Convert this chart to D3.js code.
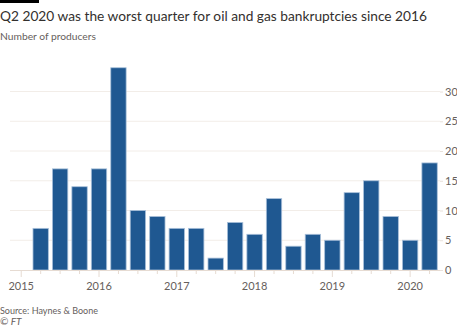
<!DOCTYPE html>
<html>
<head>
<meta charset="utf-8">
<script src="https://cdn.jsdelivr.net/npm/d3@7"></script>
<style>
  body { margin: 0; background: #fff; }
  text { font-family: Lato, "Open Sans", sans-serif; }
</style>
</head>
<body>
<svg width="457" height="327"></svg>
<script>
var quarters = ["2015Q1","2015Q2","2015Q3","2015Q4",
                "2016Q1","2016Q2","2016Q3","2016Q4",
                "2017Q1","2017Q2","2017Q3","2017Q4",
                "2018Q1","2018Q2","2018Q3","2018Q4",
                "2019Q1","2019Q2","2019Q3","2019Q4",
                "2020Q1","2020Q2"];
var producers = [null, 7, 17, 14, 17, 34, 10, 9, 7, 7, 2, 8, 6, 12, 4, 6, 5, 13, 15, 9, 5, 18];
var yTicks = [0, 5, 10, 15, 20, 25, 30];

var svg = d3.select("svg"),
    width = +svg.attr("width"),
    height = +svg.attr("height");

var data = quarters.map(function(q, i) { return {q: q, v: producers[i]}; });

var x = d3.scaleBand()
    .domain(quarters)
    .range([11.5, 439.3])
    .paddingInner(0.21)
    .paddingOuter(0.105);

var y = d3.scaleLinear()
    .domain([0, 35])
    .range([270, 61.8]);

// top-left FT bar
svg.append("rect")
    .attr("x", 0).attr("y", 0)
    .attr("width", 39).attr("height", 3)
    .attr("fill", "#000");

svg.append("text")
    .attr("class", "title")
    .attr("x", 0).attr("y", 21)
    .attr("fill", "#33302e")
    .style("font-size", "15.5px")
    .text("Q2 2020 was the worst quarter for oil and gas bankruptcies since 2016");

svg.append("text")
    .attr("class", "subtitle")
    .attr("x", 0).attr("y", 40)
    .attr("fill", "#66605c")
    .style("font-size", "11.5px")
    .text("Number of producers");

// fit a text to the width it has in the original
function fit(sel, w) {
  var len = sel.node().getComputedTextLength();
  var fs = parseFloat(sel.style("font-size"));
  sel.style("font-size", (fs * w / len) + "px");
}
fit(svg.select(".title"), 427);
fit(svg.select(".subtitle"), 96);

// gridlines + right axis
var yAxis = d3.axisRight(y)
    .tickValues(yTicks)
    .tickSize(3)
    .tickPadding(2);

var gy = svg.append("g")
    .attr("transform", "translate(440,0)")
    .call(yAxis);
gy.select(".domain").remove();
gy.selectAll(".tick line").attr("stroke", "#e9e2db");
gy.selectAll(".tick text")
    .attr("fill", "#66605c")
    .style("font-size", "11px")
    .style("font-family", "Lato, 'Open Sans', sans-serif");

svg.append("g")
    .selectAll("line")
    .data(yTicks.filter(function(d) { return d > 0; }))
    .enter().append("line")
      .attr("x1", 10).attr("x2", 440)
      .attr("y1", function(d) { return y(d); })
      .attr("y2", function(d) { return y(d); })
      .attr("stroke", "#f2ede8")
      .attr("stroke-width", 1);

// bars
svg.append("g")
    .selectAll("rect")
    .data(data.filter(function(d) { return d.v != null; }))
    .enter().append("rect")
      .attr("x", function(d) { return x(d.q); })
      .attr("y", function(d) { return y(d.v); })
      .attr("width", x.bandwidth())
      .attr("height", function(d) { return y(0) - y(d.v); })
      .attr("fill", "#1f5891")
      .attr("stroke", "#a9c0da")
      .attr("stroke-width", 0.8);

// baseline
svg.append("line")
    .attr("x1", 10).attr("x2", 440)
    .attr("y1", y(0) + 0.5).attr("y2", y(0) + 0.5)
    .attr("stroke", "#e6dbd2")
    .attr("stroke-width", 1.2);

// bottom ticks at each quarter, longer at years
var xAxis = d3.axisBottom(x)
    .tickSize(0)
    .tickFormat(function(d) { return d.slice(4) === "Q1" ? d.slice(0, 4) : ""; });

var gx = svg.append("g")
    .attr("transform", "translate(0," + (y(0) + 1) + ")")
    .call(xAxis);
gx.select(".domain").remove();
gx.selectAll(".tick line")
    .attr("y2", function(d) { return d.slice(4) === "Q1" ? 6 : 3; })
    .attr("stroke", "#e6dbd2");
gx.selectAll(".tick text")
    .attr("y", 11)
    .attr("fill", "#66605c")
    .style("font-size", "11px")
    .style("font-family", "Lato, 'Open Sans', sans-serif");

svg.append("text")
    .attr("class", "source")
    .attr("x", 0).attr("y", 314)
    .attr("fill", "#66605c")
    .style("font-size", "10.5px")
    .text("Source: Haynes & Boone");
fit(svg.select(".source"), 98);

svg.append("text")
    .attr("x", 0).attr("y", 325)
    .attr("fill", "#66605c")
    .style("font-size", "10px")
    .style("font-style", "italic")
    .text("\u00a9 FT");
</script>
</body>
</html>
